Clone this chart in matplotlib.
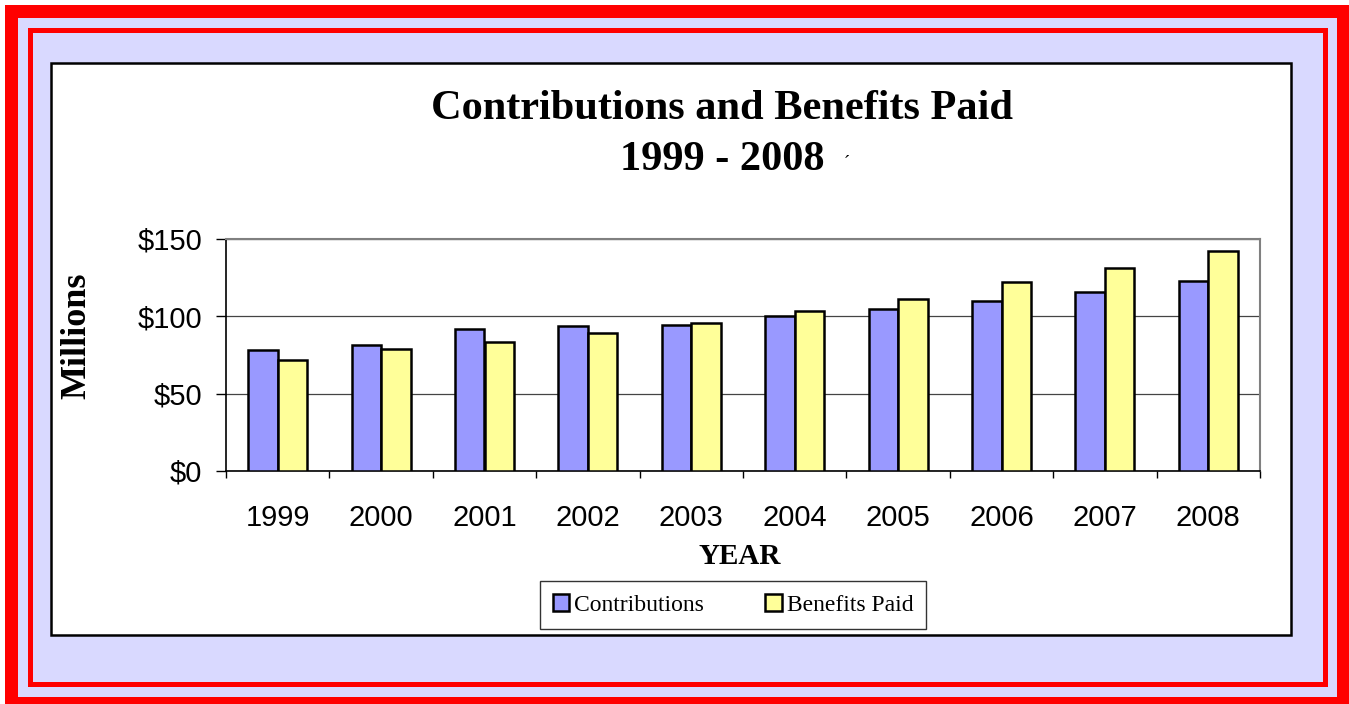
"""Contributions and benefits paid, 1999-2008, in the old Excel report style."""

import matplotlib

matplotlib.use("Agg")

import matplotlib.pyplot as plt  # noqa: E402
import numpy as np  # noqa: E402
from matplotlib.patches import Rectangle  # noqa: E402

years = ["1999", "2000", "2001", "2002", "2003", "2004", "2005", "2006", "2007", "2008"]
contributions = [78, 81.5, 92, 93.5, 94.5, 100.5, 105, 110, 115.5, 123]
benefits_paid = [72, 79, 83.5, 89, 96, 103.5, 111, 122, 131.5, 142]
y_ticks = [0, 50, 100, 150]
y_tick_labels = ["$0", "$50", "$100", "$150"]

W, H = 1349, 704
SERIF = "Liberation Serif"
SANS = "Liberation Sans"
C_BLUE = "#9999FF"
C_YELLOW = "#FFFF99"
LAVENDER = "#D9D9FF"
RED = "#FF0000"


def box(x0, y0, x1, y1):
    """Pixel box (image coords, y down) -> figure-fraction (x, y, w, h)."""
    return x0 / W, 1 - y1 / H, (x1 - x0) / W, (y1 - y0) / H


fig = plt.figure(figsize=(W / 100, H / 100), dpi=100, facecolor="white")

# frame: thick red, lavender, thin red line, lavender, white panel
frames = [
    (box(5, 5, W, H), RED, None, 0),
    (box(18, 18, 1337, 697), LAVENDER, None, 0),
    (box(29.5, 29.5, 1325, 684), LAVENDER, RED, 3.6),
    (box(51, 63, 1291, 635), "white", "black", 1.8),
]
for z, ((x, y, w, h), fc, ec, lw) in enumerate(frames):
    fig.add_artist(Rectangle((x, y), w, h, transform=fig.transFigure,
                             facecolor=fc, edgecolor=ec or fc, linewidth=lw,
                             zorder=-10 + z))

ax = fig.add_axes(box(226, 239, 1260, 471))
ax.set_facecolor("white")

x = np.arange(len(years))
bw = 0.285
ax.bar(x - bw / 2, contributions, bw, color=C_BLUE, edgecolor="black",
       linewidth=1.8, label="Contributions", zorder=3)
ax.bar(x + bw / 2, benefits_paid, bw, color=C_YELLOW, edgecolor="black",
       linewidth=1.8, label="Benefits Paid", zorder=3)

ax.set_xlim(-0.5, len(years) - 0.5)
ax.set_ylim(0, 150)
ax.set_yticks(y_ticks)
ax.set_yticklabels(y_tick_labels, fontfamily=SANS, fontsize=21)
ax.yaxis.grid(True, color="#444444", linewidth=0.9, zorder=0)
ax.tick_params(axis="y", direction="out", length=7, width=1, pad=10)

# boundary ticks between categories, labels at centres
ax.set_xticks(np.arange(len(years) + 1) - 0.5)
ax.set_xticklabels([])
ax.tick_params(axis="x", which="major", direction="out", length=5, width=1)
ax.set_xticks(x, minor=True)
ax.set_xticklabels(years, minor=True, fontfamily=SANS, fontsize=21)
ax.tick_params(axis="x", which="minor", length=0, pad=24)

for side in ("top", "right"):
    ax.spines[side].set_color("#808080")
    ax.spines[side].set_linewidth(1.5)
for side in ("left", "bottom"):
    ax.spines[side].set_color("black")
    ax.spines[side].set_linewidth(1.2)

fig.text(722 / W, 1 - 119 / H, "Contributions and Benefits Paid", ha="center",
         va="baseline", fontfamily=SERIF, fontweight="bold", fontsize=30.5)
fig.text(722 / W, 1 - 170 / H, "1999 - 2008", ha="center", va="baseline",
         fontfamily=SERIF, fontweight="bold", fontsize=30.5)
fig.text(847 / W, 1 - 163 / H, "\u00b4", ha="center", va="center",
         fontfamily=SERIF, fontsize=13)
fig.text(77 / W, 1 - 336 / H, "Millions", ha="center", va="center",
         rotation=90, fontfamily=SERIF, fontweight="bold", fontsize=26)
fig.text(740 / W, 1 - 556 / H, "YEAR", ha="center", va="center",
         fontfamily=SERIF, fontweight="bold", fontsize=21)

leg = fig.legend(loc="center", bbox_to_anchor=(733 / W, 1 - 605 / H), ncol=2,
                 prop={"family": SERIF, "size": 17}, frameon=True,
                 fancybox=False, edgecolor="black", handlelength=0.7,
                 handleheight=0.7, handletextpad=0.2, columnspacing=2.6,
                 borderpad=0.55, borderaxespad=0)
leg.get_frame().set_linewidth(1.0)

fig.savefig("out.png", dpi=100, facecolor=fig.get_facecolor())
plt.close(fig)
